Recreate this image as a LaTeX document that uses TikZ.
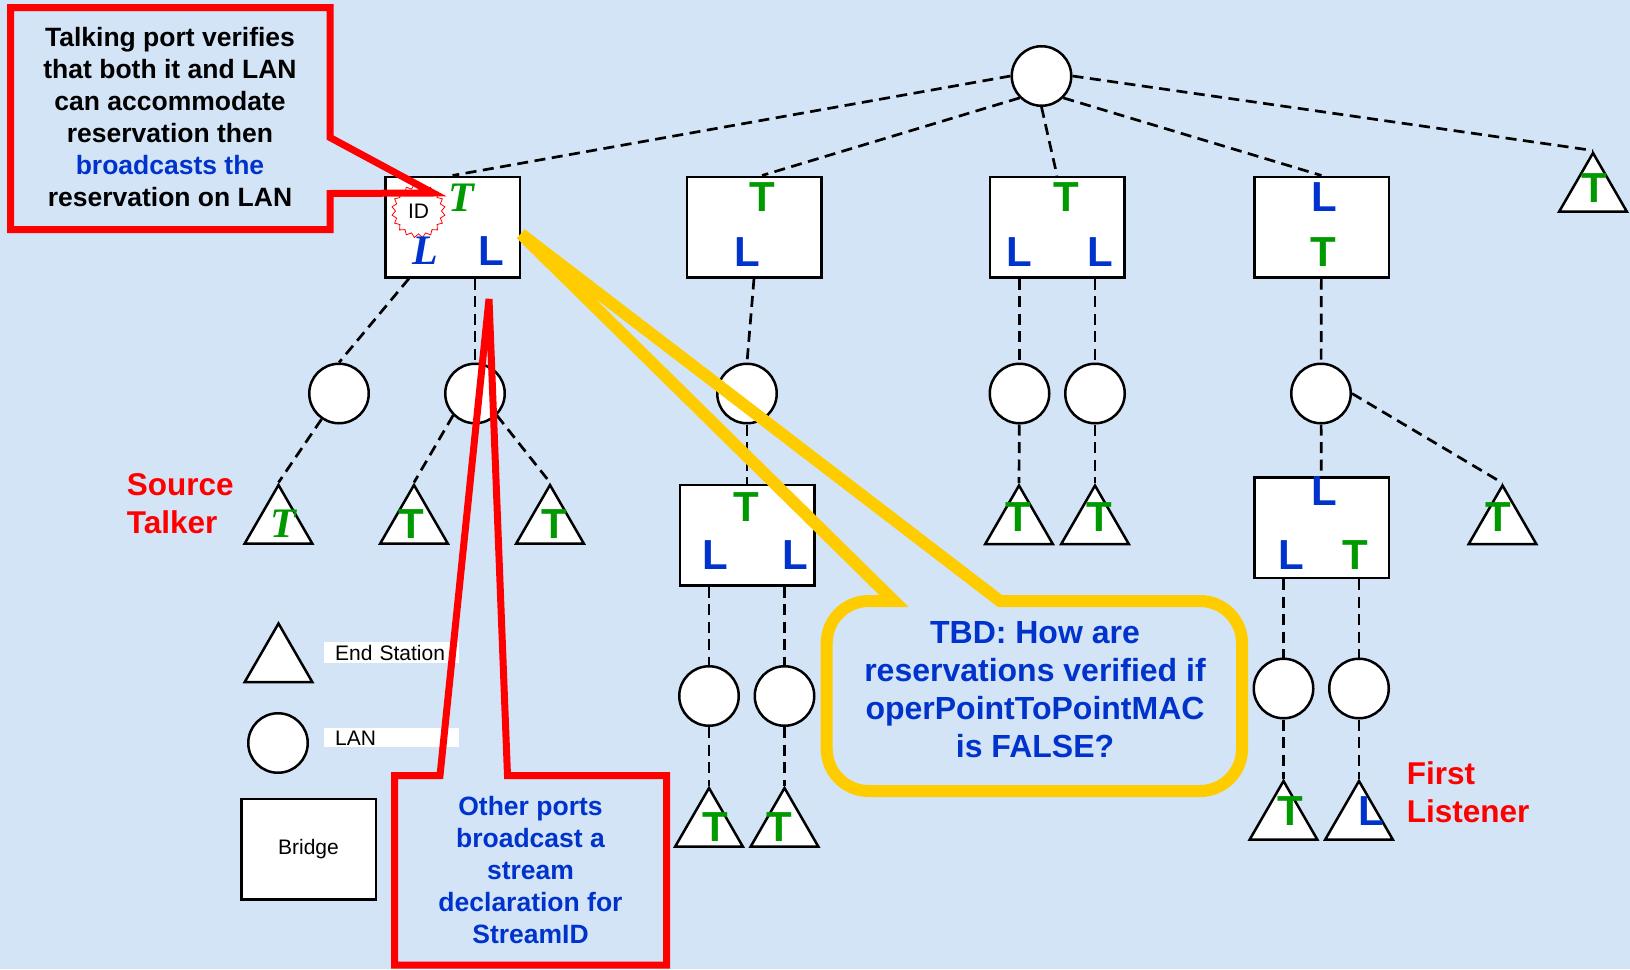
\documentclass[tikz,border=0pt]{standalone}
\usepackage{fontspec}
\setmainfont{Liberation Sans}
\newfontfamily\serifit{Liberation Serif}
\usepackage{tikz}
\usetikzlibrary{shapes.geometric,calc}

\definecolor{bgblue}{RGB}{211,228,246}
\definecolor{tgreen}{RGB}{0,153,0}
\definecolor{lblue}{RGB}{0,51,204}
\definecolor{cred}{RGB}{255,0,0}
\definecolor{cyellow}{RGB}{255,204,0}

\begin{document}
\begin{tikzpicture}[
    x=1pt, y=-1pt,
    bridge/.style={rectangle, draw, fill=white, line width=2.5pt, minimum width=134.5pt, minimum height=100.5pt, inner sep=0pt},
    lan/.style={circle, draw, fill=white, line width=2.5pt, minimum size=59.5pt, inner sep=0pt},
    station/.style={regular polygon, regular polygon sides=3, draw, fill=white, line width=2.5pt, minimum size=78pt, inner sep=0pt},
    link/.style={line width=2.7pt, dash pattern=on 11pt off 6.5pt},
    tport/.style={text=tgreen, font=\fontsize{42}{42}\selectfont\bfseries, inner sep=0pt},
    lport/.style={text=lblue, font=\fontsize{42}{42}\selectfont\bfseries, inner sep=0pt},
    tital/.style={text=tgreen, font=\fontsize{42}{42}\selectfont\serifit\bfseries\itshape, inner sep=0pt},
    lital/.style={text=lblue, font=\fontsize{42}{42}\selectfont\serifit\bfseries\itshape, inner sep=0pt},
    keytext/.style={fill=white, anchor=west, font=\fontsize{21}{21}\selectfont, align=left, text width=112pt, inner xsep=11.7pt, inner ysep=0pt},
    bignote/.style={font=\fontsize{26.5}{32}\selectfont\bfseries, align=center, inner sep=0pt},
    redtag/.style={text=cred, font=\fontsize{31.5}{38}\selectfont\bfseries, align=left, anchor=west, inner sep=0pt},
    redcallout/.style={draw=cred, line width=7pt},
    yellowcallout/.style={draw=cyellow, line width=12pt},
]
    \useasboundingbox (0,0) rectangle (1630,969);
    \fill[bgblue] (0,0) rectangle (1630,969);

    % top LAN and bridges
    \node[lan] (lan0) at (1041.5,76) {};
    \node[bridge] (b1) at (452.5,227) {};
    \node[bridge] (b2) at (754,227) {};
    \node[bridge] (b3) at (1057,227) {};
    \node[bridge] (b4) at (1321.5,227) {};
    \node[bridge] (b5) at (747,535) {};
    \node[bridge] (b6) at (1321.5,527.5) {};

    % LANs
    \node[lan] (c1) at (339,393.5) {};
    \node[lan] (c2) at (475,393.5) {};
    \node[lan] (c3) at (747,393.5) {};
    \node[lan] (c4) at (1019.5,393.5) {};
    \node[lan] (c5) at (1095,393.5) {};
    \node[lan] (c6) at (1321,393.5) {};
    \node[lan] (c7) at (709,696) {};
    \node[lan] (c8) at (784.5,696) {};
    \node[lan] (c9) at (1283.5,688.5) {};
    \node[lan] (c10) at (1359,688.5) {};

    % end stations
    \node[station] (t1) at (278.5,524) {};
    \node[station] (t2) at (414,524) {};
    \node[station] (t3) at (550,524) {};
    \node[station] (t4) at (709,827) {};
    \node[station] (t5) at (784.5,827) {};
    \node[station] (t6) at (1019,524.5) {};
    \node[station] (t7) at (1095,524.5) {};
    \node[station] (t8) at (1502.5,524.5) {};
    \node[station] (t9) at (1283.5,820) {};
    \node[station] (t10) at (1359,820) {};
    \node[station] (t11) at (1593,192) {};

    % Links
    \draw[link] (lan0.west) -- (b1.north);
    \draw[link] (lan0.south west) -- ([xshift=8pt]b2.north);
    \draw[link] (lan0.south) -- (b3.north);
    \draw[link] (lan0.south east) -- (b4.north);
    \draw[link] (lan0.east) -- (t11.corner 1);
    \draw[link] ([xshift=25pt]b1.south west) -- (c1.north);
    \draw[link] (c2 |- b1.south) -- (c2);
    \draw[link] (b2.south) -- (c3.north);
    \draw[link] (c3) -- (b5);
    \draw[link] (c4 |- b3.south) -- (c4);
    \draw[link] (c5 |- b3.south) -- (c5);
    \draw[link] (b4) -- (c6);
    \draw[link] (c6) -- (b6);
    \draw[link] (c7 |- b5.south) -- (c7);
    \draw[link] (c8 |- b5.south) -- (c8);
    \draw[link] (c9 |- b6.south) -- (c9);
    \draw[link] (c10 |- b6.south) -- (c10);
    \draw[link] (c1) -- (t1.corner 1);
    \draw[link] (c2.south west) -- (t2.corner 1);
    \draw[link] (c2.south east) -- (t3.corner 1);
    \draw[link] (c4) -- (t6.corner 1);
    \draw[link] (c5) -- (t7.corner 1);
    \draw[link] (c6.east) -- (t8.corner 1);
    \draw[link] (c7) -- (t4.corner 1);
    \draw[link] (c8) -- (t5.corner 1);
    \draw[link] (c9) -- (t9.corner 1);
    \draw[link] (c10) -- (t10.corner 1);

    % Port letters
    \node[star, star points=20, star point ratio=0.86, draw=cred, line width=0.8pt, fill=white, minimum size=46pt, inner sep=0pt, font=\fontsize{21}{21}\selectfont] (sid) at (418.5,211) {ID};
    \node[tital] (b1t) at (461,198) {T};
    \node[lital] (b1l) at (425.5,251) {L};
    \node[lport] (b1r) at (491.5,251.5) {L};
    \node[tport] (b2t) at (762.5,197) {T};
    \node[lport] (b2l) at (747,252) {L};
    \node[tport] (b3t) at (1066.5,197) {T};
    \node[lport] (b3l) at (1019.5,252) {L};
    \node[lport] (b3r) at (1100,252) {L};
    \node[lport] (b4l) at (1324,197) {L};
    \node[tport] (b4t) at (1323.5,252) {T};
    \node[tport] (b5t) at (746.5,507.5) {T};
    \node[lport] (b5l) at (715.5,555.5) {L};
    \node[lport] (b5r) at (795.5,555.5) {L};
    \node[lport] (b6l) at (1324,491.5) {L};
    \node[lport] (b6m) at (1291.5,555.5) {L};
    \node[tport] (b6t) at (1355,555.5) {T};
    \node[tital] (t1x) at (283,524) {T};
    \node[tport] (t2x) at (411,524) {T};
    \node[tport] (t3x) at (554,524) {T};
    \node[tport] (t4x) at (715,827.5) {T};
    \node[tport] (t5x) at (779,827.5) {T};
    \node[tport] (t6x) at (1018.5,517) {T};
    \node[tport] (t7x) at (1099,517) {T};
    \node[tport] (t8x) at (1498,517) {T};
    \node[tport] (t9x) at (1290.5,811) {T};
    \node[lport] (t10x) at (1371.5,811) {L};
    \node[tport] (t11x) at (1594.5,188.5) {T};

    % Key
    \node[station] (keyst) at (278.5,662.5) {};
    \node[lan] (keylan) at (278,743) {};
    \node[bridge, font=\fontsize{21}{21}\selectfont] (keybr) at (308.5,849) {Bridge};
    \node[keytext, minimum height=21.6pt] (keysttxt) at (323.3,652.5) {End Station};
    \node[keytext, minimum height=19pt] (keylantxt) at (323.3,737.8) {LAN};

    % Notes
    \node[redtag] (srctalk) at (126.7,504) {Source\\Talker};
    \node[redtag] (firstlis) at (1406.7,792.7) {First\\Listener};
    \node[bignote] (talknote) at (170,117.5) {Talking port verifies\\that both it and LAN\\can accommodate\\reservation then\\\textcolor{lblue}{broadcasts the}\\reservation on LAN};
    \node[bignote, text=lblue] (othernote) at (530.5,870.5) {Other ports\\broadcast a\\stream\\declaration for\\StreamID};
    \node[bignote, text=lblue, font=\fontsize{32}{38}\selectfont\bfseries] (tbdnote) at (1035,689.5) {TBD: How are\\reservations verified if\\operPointToPointMAC\\is FALSE?};

    % Callout outlines
    \draw[redcallout] (10.5,7.5) -- (330,7.5) -- (330,137.5) -- (433,193) -- (330,193.5) -- (330,229.5) -- (10.5,229.5) -- cycle;
    \draw[redcallout] (394.5,775.5) -- (440,775.5) -- (489,299) -- (507.5,775.5) -- (666.5,775.5) -- (666.5,965) -- (394.5,965) -- cycle;
    \draw[yellowcallout] (521,234) -- (1000,601) -- (1200,601) arc[start angle=-90, end angle=0, radius=42] -- (1242,749) arc[start angle=0, end angle=90, radius=42] -- (868.7,791) arc[start angle=90, end angle=180, radius=42] -- (826.7,643) arc[start angle=180, end angle=270, radius=42] -- (894,601) -- cycle;
\end{tikzpicture}
\end{document}
